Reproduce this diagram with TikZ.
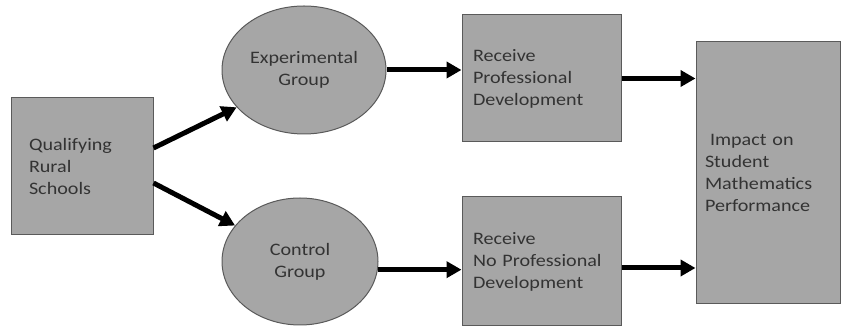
\documentclass[tikz,border=0pt]{standalone}
\usepackage{fontspec}
\setmainfont{Carlito}[FakeStretch=1.15]
\usetikzlibrary{arrows.meta,shapes.geometric}
\definecolor{boxfill}{HTML}{A6A6A6}
\definecolor{boxline}{HTML}{5A5A5A}
\definecolor{txt}{HTML}{333333}
\tikzset{
  base/.style={draw=boxline, line width=1pt, fill=boxfill, text=txt,
    font=\fontsize{17.5}{22}\selectfont},
  rbox/.style={base, rectangle, align=left, inner ysep=0pt},
  oval/.style={base, ellipse, align=center, inner sep=0pt},
  flow/.style={line width=5pt, -{Triangle[length=15pt,width=16pt]}}
}
\begin{document}
\begin{tikzpicture}[x=1pt,y=-1pt]
\useasboundingbox (0,0) rectangle (841,328);
\node[rbox, minimum width=142pt, minimum height=137pt, inner xsep=18pt, text width=106pt] (q) at (82,166.5) {Qualifying\\Rural\\Schools};
\node[oval, minimum width=164pt, minimum height=128pt] (exp) at (304,70) {Experimental\\Group};
\node[oval, minimum width=156pt, minimum height=127pt] (ctl) at (300,261.5) {Control\\Group};
\node[rbox, minimum width=159pt, minimum height=127pt, inner xsep=11pt, text width=137pt] (pd) at (541.5,78.5) {Receive\\Professional\\Development};
\node[rbox, minimum width=159pt, minimum height=129pt, inner xsep=11pt, text width=137pt] (npd) at (541.5,261.5) {Receive\\No Professional\\Development};
\node[rbox, minimum width=144pt, minimum height=262pt, inner xsep=9pt, text width=126pt] (imp) at (768,173) {\hspace*{5pt}Impact on\\Student\\Mathematics\\Performance};
\draw[flow] ([yshift=18.5pt]q.east) -- (exp.209);
\draw[flow] ([yshift=-16.5pt]q.east) -- (ctl.151);
\draw[flow] (exp.east) -- (exp.east -| pd.west);
\draw[flow] (ctl.-6) -- (ctl.-6 -| npd.west);
\draw[flow] (pd.east) -- (pd.east -| imp.west);
\draw[flow] ([yshift=-6.5pt]npd.east) -- ([yshift=-6.5pt]npd.east -| imp.west);
\end{tikzpicture}
\end{document}
